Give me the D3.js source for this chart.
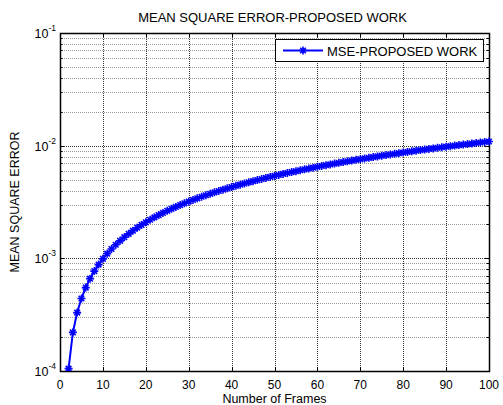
<!DOCTYPE html>
<html><head><meta charset="utf-8">
<script src="https://cdn.jsdelivr.net/npm/d3@7"></script>
<style>body{margin:0;background:#fff}svg{display:block}text{font-family:"Liberation Sans",Arial,sans-serif;fill:#000}</style>
</head><body><svg id="c" width="503" height="405"></svg>
<script>
const title = "MEAN SQUARE ERROR-PROPOSED WORK";
const xLabel = "Number of Frames";
const yLabel = "MEAN SQUARE ERROR";
const legendLabel = "MSE-PROPOSED WORK";
const xTicks = [0,10,20,30,40,50,60,70,80,90,100];
const yExponents = [-4,-3,-2,-1];
const frames = d3.range(2,101);
// MSE values in units of 1e-4 (frames 2..100)
const mseE4 = [1.05,2.2,3.3,4.4,5.5,6.6,7.7,8.8,9.9,
11.0,12.1,13.2,14.3,15.4,16.5,17.6,18.7,19.8,20.9,
22.0,23.1,24.2,25.3,26.4,27.5,28.6,29.7,30.8,31.9,
33.0,34.1,35.2,36.3,37.4,38.5,39.6,40.7,41.8,42.9,
44.0,45.1,46.2,47.3,48.4,49.5,50.6,51.7,52.8,53.9,
55.0,56.1,57.2,58.3,59.4,60.5,61.6,62.7,63.8,64.9,
66.0,67.1,68.2,69.3,70.4,71.5,72.6,73.7,74.8,75.9,
77.0,78.1,79.2,80.3,81.4,82.5,83.6,84.7,85.8,86.9,
88.0,89.1,90.2,91.3,92.4,93.5,94.6,95.7,96.8,97.9,
99.0,100.1,101.2,102.3,103.4,104.5,105.6,106.7,107.8,108.9];

const data = frames.map((f,i)=>({x:f,y:mseE4[i]*1e-4}));
const L=60,R=489,T=33,B=371;
const svg=d3.select("#c");
const x=d3.scaleLinear().domain([0,100]).range([L,R]);
const y=d3.scaleLog().domain([1e-4,1e-1]).range([B,T]);

// minor grid
const minors=[];
for(let e=-4;e<-1;e++){for(let k=2;k<=9;k++)minors.push(k*Math.pow(10,e));}
const g=svg.append("g");
g.selectAll(".mg").data(minors).enter().append("line")
 .attr("x1",L).attr("x2",R).attr("y1",d=>Math.round(y(d))+0.5).attr("y2",d=>Math.round(y(d))+0.5)
 .attr("stroke","#999").attr("stroke-width",1).attr("stroke-dasharray","1,1");
// major grid
g.selectAll(".gy").data(yExponents).enter().append("line")
 .attr("x1",L).attr("x2",R).attr("y1",d=>Math.round(y(Math.pow(10,d)))+0.5).attr("y2",d=>Math.round(y(Math.pow(10,d)))+0.5)
 .attr("stroke","#333").attr("stroke-width",1).attr("stroke-dasharray","1,1");
g.selectAll(".gx").data(xTicks).enter().append("line")
 .attr("y1",T).attr("y2",B).attr("x1",d=>Math.round(x(d))+0.5).attr("x2",d=>Math.round(x(d))+0.5)
 .attr("stroke","#333").attr("stroke-width",1).attr("stroke-dasharray","1,1");

// ticks (inward, all sides)
const tk=svg.append("g").attr("stroke","#000").attr("stroke-width",1);
xTicks.forEach(d=>{const px=Math.round(x(d))+0.5;
 tk.append("line").attr("x1",px).attr("x2",px).attr("y1",B).attr("y2",B-4);
 tk.append("line").attr("x1",px).attr("x2",px).attr("y1",T).attr("y2",T+4);});
yExponents.forEach(e=>{const py=Math.round(y(Math.pow(10,e)))+0.5;
 tk.append("line").attr("x1",L).attr("x2",L+4).attr("y1",py).attr("y2",py);
 tk.append("line").attr("x1",R).attr("x2",R-4).attr("y1",py).attr("y2",py);});
minors.forEach(d=>{const py=Math.round(y(d))+0.5;
 tk.append("line").attr("x1",L).attr("x2",L+2.5).attr("y1",py).attr("y2",py);
 tk.append("line").attr("x1",R).attr("x2",R-2.5).attr("y1",py).attr("y2",py);});

// axes box
svg.append("rect").attr("x",L+0.5).attr("y",T+0.5).attr("width",R-L).attr("height",B-T)
 .attr("fill","none").attr("stroke","#000").attr("stroke-width",1.5);

// tick labels
svg.selectAll(".xl").data(xTicks).enter().append("text")
 .attr("x",d=>x(d)).attr("y",B+18).attr("text-anchor","middle").attr("font-size",12).text(d=>d);
const yl=svg.selectAll(".yl").data(yExponents).enter().append("text")
 .attr("x",L-4).attr("y",d=>y(Math.pow(10,d))+5).attr("text-anchor","end").attr("font-size",12.5);
yl.append("tspan").text("10");
yl.append("tspan").attr("dy",-7).attr("font-size",8.5).text(d=>"-"+Math.abs(d));
// labels
svg.append("text").attr("x",(L+R)/2-2).attr("y",22).attr("text-anchor","middle").attr("font-size",13).text(title);
svg.append("text").attr("x",(L+R)/2).attr("y",403).attr("text-anchor","middle").attr("font-size",12.5).text(xLabel);
svg.append("text").attr("transform",`translate(19,${(T+B)/2}) rotate(-90)`).attr("text-anchor","middle").attr("font-size",12.5).text(yLabel);

// clip
svg.append("clipPath").attr("id","cp").append("rect").attr("x",L).attr("y",T-6).attr("width",R-L+8).attr("height",B-T+6);
const star = s=>`M${-s},0L${s},0M0,${-s}L0,${s}M${-s*0.7},${-s*0.7}L${s*0.7},${s*0.7}M${-s*0.7},${s*0.7}L${s*0.7},${-s*0.7}`;
const line=d3.line().x(d=>x(d.x)).y(d=>y(d.y));
const pg=svg.append("g").attr("clip-path","url(#cp)");
pg.append("path").datum(data).attr("d",line).attr("fill","none").attr("stroke","#0000ff").attr("stroke-width",2);
pg.selectAll(".m").data(data).enter().append("path")
 .attr("transform",d=>`translate(${x(d.x)},${y(d.y)})`).attr("d",star(4))
 .attr("stroke","#0000ff").attr("stroke-width",1.6).attr("fill","none");

// legend
const lg=svg.append("g");
lg.append("rect").attr("x",275.5).attr("y",39.5).attr("width",208).attr("height",22).attr("fill","#fff").attr("stroke","#000").attr("stroke-width",1);
lg.append("line").attr("x1",283).attr("x2",323).attr("y1",50.5).attr("y2",50.5).attr("stroke","#0000ff").attr("stroke-width",2);
lg.append("path").attr("transform","translate(303,50.5)").attr("d",star(4)).attr("stroke","#0000ff").attr("stroke-width",1.6).attr("fill","none");
lg.append("text").attr("x",327).attr("y",55.5).attr("font-size",13).text(legendLabel);
</script></body></html>
